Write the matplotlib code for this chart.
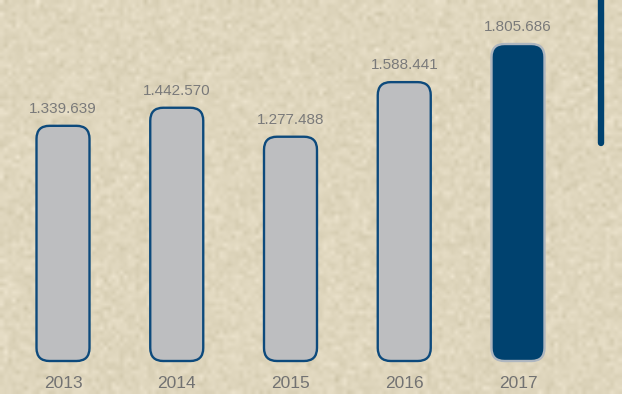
import numpy as np
import matplotlib
matplotlib.use("Agg")
import matplotlib.pyplot as plt
from matplotlib.patches import FancyBboxPatch
from matplotlib.lines import Line2D

years = ["2013", "2014", "2015", "2016", "2017"]
values = [1339639, 1442570, 1277488, 1588441, 1805686]

W, H, DPI = 622, 394, 100
fig = plt.figure(figsize=(W / DPI, H / DPI), dpi=DPI)

# textured beige background
bg = fig.add_axes([0, 0, 1, 1], zorder=0)
rng = np.random.default_rng(3)
tex = rng.normal(0, 1, (H // 4 + 1, W // 4 + 1))
base = np.array([223, 214, 189]) / 255.0
img = base[None, None, :] + tex[..., None] * np.array([0.02, 0.02, 0.024])[None, None, :]
bg.imshow(np.clip(img, 0, 1), aspect="auto", interpolation="bilinear", extent=[0, 1, 0, 1])
bg.set_axis_off()

ax = fig.add_axes([0, 0, 1, 1], zorder=1)
ax.patch.set_alpha(0)
step = 113.75
x0 = 63
ax.set_xlim(-x0 / step, (W - x0) / step)
kpx = 317 / 1805686.0
base_px = 33
ax.set_ylim(-base_px / kpx, (H - base_px) / kpx)
ax.set_axis_off()

bw = 53 / step
r_px = 13
r_x = r_px / step
r_y = r_px / kpx
aspect = r_y / r_x

for i, (y, v) in enumerate(zip(years, values)):
    last = i == len(values) - 1
    fc = "#00426F" if last else "#BDBEC0"
    ec = "#AEB6BF" if last else "#0D4A7C"
    p = FancyBboxPatch((i - bw / 2, 0), bw, v,
                       boxstyle=f"round,pad=0,rounding_size={r_x}",
                       mutation_aspect=aspect,
                       fc=fc, ec=ec, lw=1.7, zorder=2)
    ax.add_patch(p)
    lbl = f"{v:,}".replace(",", ".")
    ax.text(i, v + 10 / kpx, lbl, ha="center", va="bottom",
            fontsize=11, color="#7A7A7A", family="Liberation Sans")
    ax.text(i, -23 / kpx, y, ha="center", va="center",
            fontsize=12.5, color="#727272", family="Liberation Sans")

# decorative vertical line at upper right
xf = 600.5 / W
fig.add_artist(Line2D([xf, xf], [1.02, 1 - 143 / H], transform=fig.transFigure,
                      color="#00426F", lw=4.6, solid_capstyle="round", zorder=3))

fig.savefig("out.png", dpi=DPI)
